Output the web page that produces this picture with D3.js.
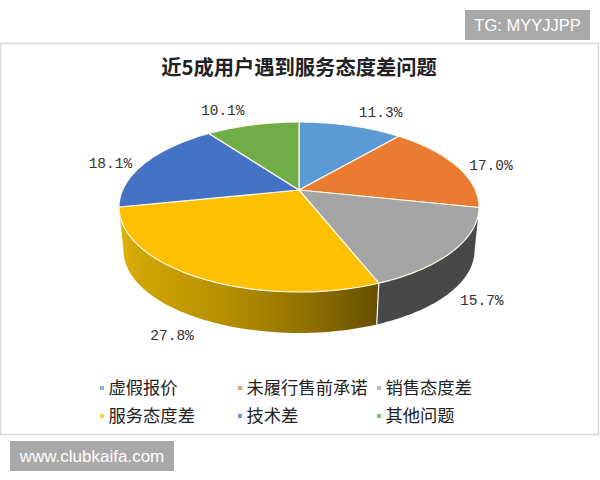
<!DOCTYPE html>
<html><head><meta charset="utf-8">
<script src="https://cdn.jsdelivr.net/npm/d3@7/dist/d3.min.js"></script>
<style>html,body{margin:0;padding:0;background:#fff}svg{display:block}</style>
</head><body><svg id="c" width="600" height="480"></svg>
<script>
const categories = ["虚假报价","未履行售前承诺","销售态度差","服务态度差","技术差","其他问题"];
const shares = [11.3,17.0,15.7,27.8,18.1,10.1];
const title = "近5成用户遇到服务态度差问题";
const colors = ["#5b9bd5","#e97c30","#a5a5a5","#ffc000","#4472c4","#70ad47"];
const sideFills = [null,null,"#484848","url(#goldSide)",null,null];
const labelNudge = [[30,-14],[35,0],[28,50],[-25,58],[-35,0],[-30,-15]];

const svg = d3.select("#c");
const F_CJK = "'Noto Sans CJK SC','Noto Sans',sans-serif";
const cx=299, apexY=190, a=43.6, c=-0.2, k=176.4, depth=43.5, bottomScale=0.975, ellipseMidY=207;

function topPt(theta){
  const X=Math.sin(theta), Y=-Math.cos(theta), d=1+c*Y;
  return [cx+k*X/d,(a*Y+apexY)/d];
}
function lowPt(theta){
  const p=topPt(theta);
  return [cx+(p[0]-cx)*bottomScale, ellipseMidY+(p[1]-ellipseMidY)*0.97+depth];
}
const line=d3.line();
const pie=d3.pie().sort(null).value(d=>d);
const arcs=pie(shares);
const color=d3.scaleOrdinal().domain(categories).range(colors);
const sweep=(s,e)=>d3.range(0,61).map(i=>s+(e-s)*i/60);

const defs=svg.append("defs");
const g=defs.append("linearGradient").attr("id","goldSide").attr("gradientUnits","userSpaceOnUse")
  .attr("x1",119).attr("x2",377).attr("y1",0).attr("y2",0);
[[0,"#e2b30c"],[0.08,"#cfa404"],[0.4,"#b79000"],[0.7,"#937400"],[1,"#685000"]]
  .forEach(s=>g.append("stop").attr("offset",s[0]).attr("stop-color",s[1]));

svg.append("rect").attr("x",0.5).attr("y",43.5).attr("width",598).attr("height",391)
  .attr("fill","#fff").attr("stroke","#d9d9d9").attr("stroke-width",1.5);

// sides
arcs.forEach((d,i)=>{
  if(!sideFills[i])return;
  const t=sweep(d.startAngle,d.endAngle);
  svg.append("path").attr("d",line(t.map(topPt).concat(t.slice().reverse().map(lowPt)))+"Z")
    .attr("fill",sideFills[i]);
});
// seam between the front sides
svg.append("path").attr("d",line([topPt(arcs[3].startAngle),lowPt(arcs[3].startAngle)]))
  .attr("stroke","#fff").attr("stroke-width",1.2).attr("fill","none");
// top
arcs.forEach((d,i)=>{
  const pts=[[cx,apexY]].concat(sweep(d.startAngle,d.endAngle).map(topPt));
  svg.append("path").attr("d",line(pts)+"Z").attr("fill",color(categories[i]))
    .attr("stroke","#fff8e8").attr("stroke-width",1.2).attr("stroke-linejoin","round");
});
// labels
arcs.forEach((d,i)=>{
  const p=topPt((d.startAngle+d.endAngle)/2);
  svg.append("text").attr("x",p[0]+labelNudge[i][0]).attr("y",p[1]+labelNudge[i][1]+5)
    .attr("text-anchor","middle").attr("font-family","'Liberation Mono',monospace")
    .attr("font-size",14.5).attr("fill","#333").text(shares[i].toFixed(1)+"%");
});
// title
svg.append("text").attr("x",299).attr("y",75).attr("text-anchor","middle")
  .attr("font-family",F_CJK).attr("font-weight",700).attr("font-size",20.3).attr("fill","#222").text(title);
// legend
const legX=d3.scaleOrdinal().domain([0,1,2]).range([100,238,377]);
const legY=d3.scaleOrdinal().domain([0,1]).range([388,416]);
categories.forEach((n,i)=>{
  const x=legX(i%3), y=legY(Math.floor(i/3));
  svg.append("rect").attr("x",x).attr("y",y-2).attr("width",4).attr("height",4).attr("fill",color(n)).attr("opacity",0.75);
  svg.append("text").attr("x",x+8.5).attr("y",y+6).attr("font-family",F_CJK)
    .attr("font-size",17.3).attr("fill","#222").text(n);
});
// watermarks
const marks=[{t:"TG: MYYJJPP",x:465,y:10,w:125,h:30,s:16.5},{t:"www.clubkaifa.com",x:10,y:441,w:164,h:30,s:17}];
marks.forEach(m=>{
  svg.append("rect").attr("x",m.x).attr("y",m.y).attr("width",m.w).attr("height",m.h).attr("fill","#a9a9a9");
  svg.append("text").attr("x",m.x+m.w/2).attr("y",m.y+m.h/2+5.5).attr("text-anchor","middle")
    .attr("font-family","'Liberation Sans',sans-serif").attr("font-size",m.s).attr("fill","#fff").text(m.t);
});
</script></body></html>
